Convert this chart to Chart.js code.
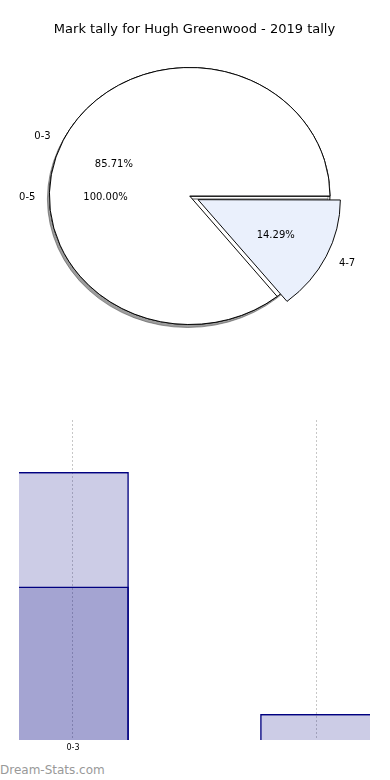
<!DOCTYPE html>
<html lang="en">
<head>
<meta charset="UTF-8">
<title>Mark tally for Hugh Greenwood - 2019 tally</title>
<script src="https://cdn.jsdelivr.net/npm/chart.js"></script>
<style>
  body { margin: 0; background: #fff; width: 390px; height: 780px; overflow: hidden; position: relative; }
  canvas { position: absolute; left: 0; top: 0; }
  .brand { position: absolute; left: 0; top: 762px; font: 12px "DejaVu Sans", sans-serif; color: #999; line-height: 16px; }
</style>
</head>
<body>
<canvas id="tallyBars" width="390" height="760"></canvas>
<canvas id="totalPie" width="390" height="360"></canvas>
<canvas id="tallyPie" width="390" height="360"></canvas>
<div class="brand">Dream-Stats.com</div>

<script>
// pie data
const pieLabels = ['0-3', '4-7'];
const pieCounts = [6, 1];
const pieColors = ['#ffffff', '#eaf0fc'];
const pieExplode = [0, 37];

const totalLabels = ['0-5'];
const totalCounts = [7];

// bar chart data
const barCategories = ['0-3', '4-7'];
const barTickLabels = ['0-3', ''];
const barSeriesA = [10.3, 1];
const barSeriesB = [5.9, 0];

Chart.defaults.font.family = 'DejaVu Sans';
Chart.defaults.color = '#000';

const SY = 0.916; // pie is drawn as an ellipse
const pieCharts = []; // both stacked pies, texts drawn on the top one

function drawPieText(ctx, chart) {
  const ds = chart.data.datasets[0];
  const total = ds.data.reduce((a, b) => a + b, 0);
  chart.getDatasetMeta(0).data.forEach((arc, i) => {
    const p = arc.getProps(['x', 'y', 'startAngle', 'endAngle', 'outerRadius'], true);
    const circ = p.endAngle - p.startAngle;
    const mid = (p.startAngle + p.endAngle) / 2;
    const off = (arc.options.offset || 0) / 4;
    const eff = off * (2 - Math.sin(Math.min(Math.PI, circ)));
    const cs = Math.cos(mid), sn = Math.sin(mid);
    const cx = p.x + cs * eff;
    const cy = p.y + sn * eff * SY + 1.5;
    const r = p.outerRadius;
    ctx.textAlign = cs >= 0 ? 'left' : 'right';
    ctx.fillText(chart.data.labels[i], cx + cs * r * 1.1, cy + sn * r * 1.1 * SY);
    ctx.textAlign = 'center';
    ctx.fillText((ds.data[i] / total * 100).toFixed(2) + '%', cx + cs * r * 0.6, cy + sn * r * 0.6 * SY);
  });
}

const ellipse = {
  id: 'ellipse',
  beforeDatasetsDraw(chart, args, opts) {
    const ctx = chart.ctx;
    const c = chart.getDatasetMeta(0).data[0];
    ctx.save();
    ctx.translate(c.x, c.y);
    ctx.scale(1, SY);
    ctx.translate(-c.x, -c.y);
    if (opts.shadow) {
      ctx.shadowColor = 'rgba(60,60,60,0.5)';
      ctx.shadowOffsetX = -2;
      ctx.shadowOffsetY = 3;
      ctx.shadowBlur = 0;
    }
  },
  afterDatasetsDraw(chart) {
    chart.ctx.restore();
  },
  afterDraw(chart, args, opts) {
    if (!opts.texts) return;
    const ctx = chart.ctx;
    ctx.save();
    ctx.font = '10px "DejaVu Sans"';
    ctx.fillStyle = '#000';
    ctx.textBaseline = 'middle';
    pieCharts.forEach(ch => drawPieText(ctx, ch));
    ctx.restore();
  }
};

// overlapping bars (this canvas also carries the figure title)
const barFill = 'rgba(0,0,128,0.2)';
new Chart(document.getElementById('tallyBars'), {
  type: 'bar',
  data: {
    datasets: [
      {
        data: barCategories.map((c, i) => ({ x: i, y: barSeriesA[i] })),
        backgroundColor: barFill,
        borderColor: '#000080',
        borderWidth: 1.5
      },
      {
        data: barCategories.map((c, i) => ({ x: i, y: barSeriesB[i] })),
        backgroundColor: barFill,
        borderColor: '#000080',
        borderWidth: 1.5
      }
    ]
  },
  options: {
    responsive: false,
    animation: false,
    grouped: false,
    barPercentage: 1,
    categoryPercentage: 0.46,
    layout: { padding: { left: 19, right: 20, top: 0, bottom: 4.4 } },
    plugins: {
      legend: { display: false },
      tooltip: { enabled: false },
      title: {
        display: true,
        text: 'Mark tally for Hugh Greenwood - 2019 tally',
        font: { size: 13, weight: 'normal' },
        color: '#000',
        padding: { top: 22.2, bottom: 382.2 }
      }
    },
    scales: {
      x: {
        type: 'linear',
        min: -0.222,
        max: 1.222,
        offset: false,
        grid: { color: 'rgba(0,0,0,0.22)', drawTicks: false, offset: false },
        border: { display: false, dash: [2, 2] },
        ticks: {
          stepSize: 1,
          includeBounds: false,
          autoSkip: false,
          maxRotation: 0,
          padding: 3,
          font: { size: 8 },
          color: '#000',
          callback: v => barTickLabels[v] ?? ''
        }
      },
      y: { display: false, min: 0, max: 12.3 }
    }
  }
});

// full 0-5 pie underneath
pieCharts.push(new Chart(document.getElementById('totalPie'), {
  type: 'pie',
  data: {
    labels: totalLabels,
    datasets: [{
      data: totalCounts,
      backgroundColor: '#ffffff',
      borderColor: '#000',
      borderWidth: 1
    }]
  },
  options: {
    responsive: false,
    animation: false,
    rotation: 90,
    radius: 140.3,
    layout: { padding: { left: 0, right: 10.6, top: 32, bottom: 0 } },
    plugins: {
      legend: { display: false },
      tooltip: { enabled: false },
      ellipse: { shadow: true, texts: false }
    }
  },
  plugins: [ellipse]
}));

// 0-3 / 4-7 pie on top (clockwise from east, so reversed)
const tallyChart = new Chart(document.getElementById('tallyPie'), {
  type: 'pie',
  data: {
    labels: pieLabels.slice().reverse(),
    datasets: [{
      data: pieCounts.slice().reverse(),
      backgroundColor: pieColors.slice().reverse(),
      offset: pieExplode.slice().reverse(),
      borderColor: '#000',
      borderWidth: 1
    }]
  },
  options: {
    responsive: false,
    animation: false,
    rotation: 90,
    radius: 140.3,
    layout: { padding: { left: 0, right: 10.6, top: 32, bottom: 0 } },
    plugins: {
      legend: { display: false },
      tooltip: { enabled: false },
      ellipse: { shadow: false, texts: true }
    }
  },
  plugins: [ellipse]
});
pieCharts.push(tallyChart);
tallyChart.draw();
</script>
</body>
</html>
